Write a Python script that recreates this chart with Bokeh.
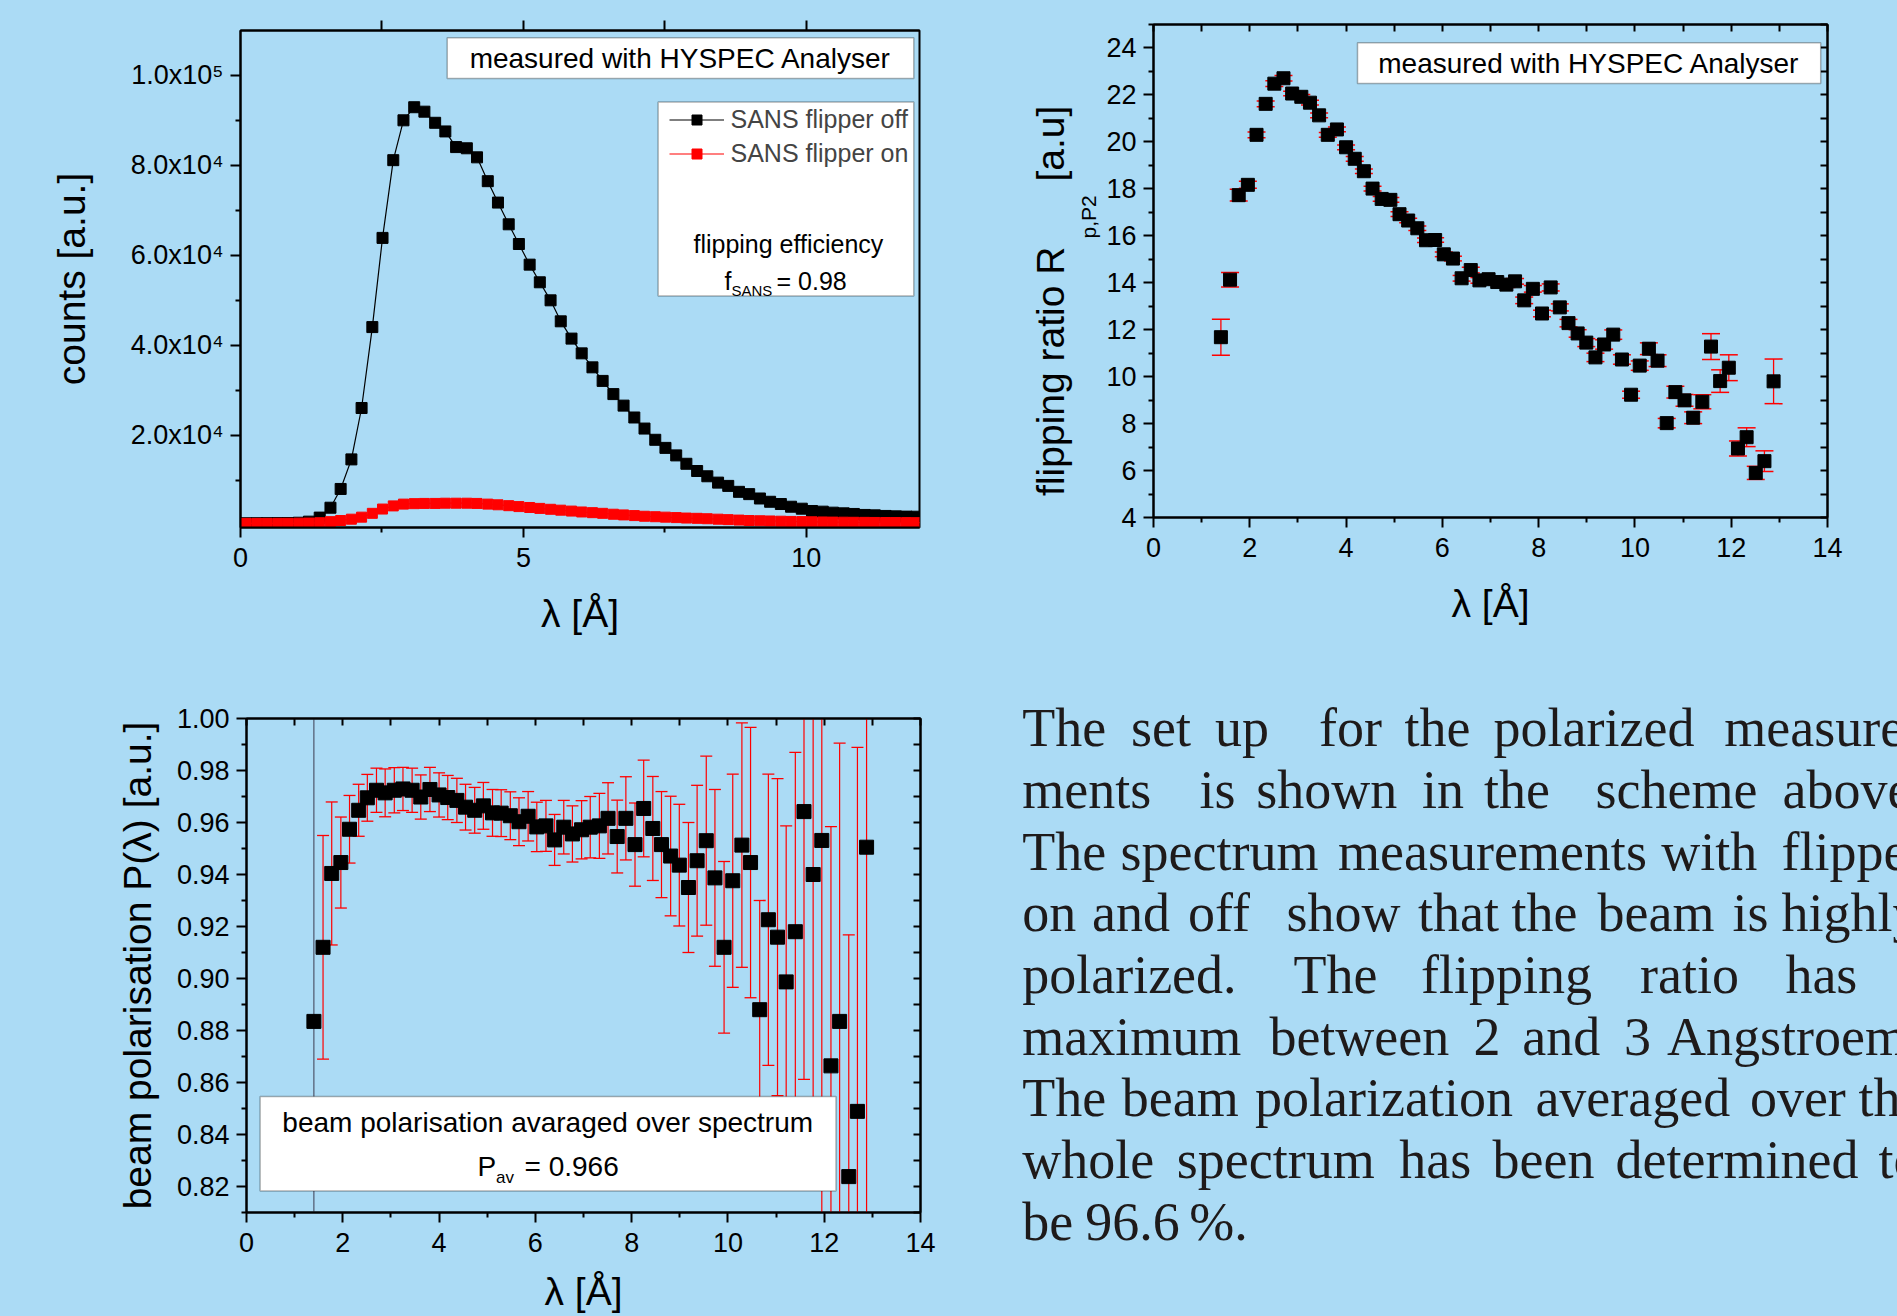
from bokeh.plotting import figure
from bokeh.layouts import column, row
from bokeh.models import (Range1d, FixedTicker, LinearAxis, Label, BoxAnnotation,
                          Legend, LegendItem, ColumnDataSource, Title)
from bokeh.core.properties import value
from bokeh.embed import file_html
from bokeh.resources import INLINE

BG = "#abdbf5"
SANS = "Liberation Sans"
SERIF = "Liberation Serif"
RED = "#ff0000"

# ---------------- data ----------------
# spectrum (panel 1)
lam_spec = [0.10, 0.29, 0.47, 0.66, 0.84, 1.03, 1.21,
            1.40, 1.59, 1.77, 1.96, 2.14, 2.33, 2.51, 2.70, 2.88, 3.07,
            3.25, 3.44, 3.62, 3.81, 4.00, 4.18, 4.37, 4.55, 4.74, 4.92,
            5.11, 5.29, 5.48, 5.66, 5.85, 6.03, 6.22, 6.40, 6.59, 6.77,
            6.96, 7.14, 7.33, 7.51, 7.70, 7.88, 8.07, 8.25, 8.44, 8.62,
            8.81, 8.99, 9.18, 9.36, 9.55, 9.73, 9.92, 10.10, 10.29, 10.47,
            10.66, 10.84, 11.03, 11.21, 11.40, 11.58, 11.77, 11.95, 12.14]
counts_off = [450, 460, 470, 480, 500, 560, 800,
              1700, 3900, 8070, 14640, 26070, 44060, 63890, 81170, 90030, 92940,
              91950, 89480, 87560, 84080, 83810, 81800, 76500, 71740, 66910, 62530,
              57940, 54020, 50010, 45340, 41500, 38220, 35110, 32090, 29160, 26600,
              23960, 21500, 19000, 17200, 15530, 13670, 12060, 10890, 9480, 8750,
              7430, 6920, 5950, 5220, 4720, 4120, 3680, 3170, 3020, 2800,
              2650, 2510, 2290, 2200, 2070, 1980, 1920, 1900, 1880]
counts_on = [420, 420, 420, 430, 440, 460, 490,
             560, 800, 1050, 1350, 1800, 2650, 3600, 4300, 4700, 4800,
             4850, 4850, 4900, 4900, 4900, 4850, 4700, 4550, 4350, 4150,
             3950, 3750, 3550, 3350, 3150, 2950, 2800, 2650, 2450, 2300,
             2150, 2000, 1900, 1800, 1700, 1600, 1540, 1450, 1350, 1250,
             1150, 1050, 1000, 950, 900, 850, 810, 770, 730, 700,
             680, 660, 640, 620, 610, 600, 590, 580, 570]

# flipping ratio and polarisation (panels 2, 3)
lam = [1.40, 1.59, 1.77, 1.96, 2.14, 2.33, 2.51, 2.70, 2.88, 3.07,
       3.25, 3.44, 3.62, 3.81, 4.00, 4.18, 4.37, 4.55, 4.74, 4.92,
       5.11, 5.29, 5.48, 5.66, 5.85, 6.03, 6.22, 6.40, 6.59, 6.77,
       6.96, 7.14, 7.33, 7.51, 7.70, 7.88, 8.07, 8.25, 8.44, 8.62,
       8.81, 8.99, 9.18, 9.36, 9.55, 9.73, 9.92, 10.10, 10.29, 10.47,
       10.66, 10.84, 11.03, 11.21, 11.40, 11.58, 11.77, 11.95, 12.14, 12.32,
       12.51, 12.69, 12.88]
ratio = [11.68, 14.13, 17.73, 18.17, 20.30, 21.62, 22.48, 22.71, 22.06, 21.92,
         21.67, 21.13, 20.30, 20.53, 19.77, 19.28, 18.75, 18.01, 17.57, 17.53,
         16.92, 16.65, 16.32, 15.81, 15.82, 15.21, 15.03, 14.19, 14.54, 14.10,
         14.15, 14.03, 13.92, 14.06, 13.25, 13.74, 12.69, 13.80, 12.95, 12.28,
         11.84, 11.45, 10.82, 11.37, 11.79, 10.73, 9.23, 10.47, 11.19, 10.68,
         8.02, 9.34, 8.99, 8.25, 8.93, 11.28, 9.81, 10.38, 6.94, 7.42,
         5.90, 6.40, 9.80]
ratio_err = [0.77, 0.31, 0.25, 0.15, 0.12, 0.12, 0.12, 0.12, 0.10, 0.10,
             0.10, 0.10, 0.10, 0.10, 0.10, 0.10, 0.10, 0.10, 0.10, 0.10,
             0.10, 0.10, 0.10, 0.10, 0.10, 0.10, 0.10, 0.12, 0.12, 0.12,
             0.12, 0.12, 0.12, 0.12, 0.14, 0.14, 0.14, 0.15, 0.15, 0.16,
             0.16, 0.17, 0.18, 0.20, 0.20, 0.20, 0.15, 0.20, 0.25, 0.25,
             0.20, 0.25, 0.25, 0.25, 0.30, 0.55, 0.48, 0.55, 0.32, 0.40,
             0.28, 0.44, 0.95]
pol = [0.8835, 0.9120, 0.9404, 0.9446, 0.9574, 0.9647, 0.9695, 0.9724, 0.9714, 0.9724,
       0.9729, 0.9724, 0.9698, 0.9727, 0.9706, 0.9696, 0.9685, 0.9659, 0.9647, 0.9664,
       0.9637, 0.9636, 0.9626, 0.9603, 0.9624, 0.9583, 0.9587, 0.9533, 0.9582, 0.9556,
       0.9572, 0.9582, 0.9587, 0.9616, 0.9546, 0.9616, 0.9515, 0.9654, 0.9577, 0.9515,
       0.9471, 0.9436, 0.9350, 0.9453, 0.9530, 0.9387, 0.9120, 0.9376, 0.9513, 0.9446,
       0.8880, 0.9226, 0.9159, 0.8987, 0.9180, 0.9642, 0.9400, 0.9531, 0.8664, 0.8835,
       0.8238, 0.8489, 0.9505]
pol_err = [0.200, 0.043, 0.0275, 0.0175, 0.013, 0.010, 0.009, 0.0085, 0.0092, 0.0087,
           0.0083, 0.0085, 0.0085, 0.0085, 0.0085, 0.0085, 0.0085, 0.0088, 0.0088, 0.0090,
           0.0090, 0.0090, 0.0092, 0.0092, 0.0095, 0.0095, 0.0098, 0.0098, 0.0103, 0.0108,
           0.0112, 0.0118, 0.0125, 0.0137, 0.0140, 0.0160, 0.0160, 0.0186, 0.0200, 0.0204,
           0.0230, 0.0234, 0.0250, 0.0290, 0.0325, 0.0340, 0.0330, 0.0410, 0.0470, 0.0520,
           0.0420, 0.0560, 0.0610, 0.0600, 0.0690, 0.1030, 0.1000, 0.1500, 0.0920, 0.1070,
           0.0930, 0.1400, 0.2000]

# ticks and labels
spec_x_ticks = [0, 5, 10]
spec_x_minor = [2.5, 7.5]
spec_top_ticks = [2.5, 5, 7.5, 10]
spec_y_ticks = [20000, 40000, 60000, 80000, 100000]
spec_y_minor = [10000, 30000, 50000, 70000, 90000]
spec_y_labels = ["2.0x10\u2074", "4.0x10\u2074", "6.0x10\u2074", "8.0x10\u2074", "1.0x10\u2075"]
lam_ticks = [0, 2, 4, 6, 8, 10, 12, 14]
lam_minor = [1, 3, 5, 7, 9, 11, 13]
ratio_ticks = [4, 6, 8, 10, 12, 14, 16, 18, 20, 22, 24]
ratio_minor = [5, 7, 9, 11, 13, 15, 17, 19, 21, 23, 25]
pol_ticks = [0.82, 0.84, 0.86, 0.88, 0.90, 0.92, 0.94, 0.96, 0.98, 1.00]
pol_minor = [0.81, 0.83, 0.85, 0.87, 0.89, 0.91, 0.93, 0.95, 0.97, 0.99]
pol_labels = ["0.82", "0.84", "0.86", "0.88", "0.90", "0.92", "0.94", "0.96", "0.98", "1.00"]

# paragraph text (words per line)
para_words = [
    ["The", "set", "up", "for", "the", "polarized", "measure-"],
    ["ments", "is", "shown", "in", "the", "scheme", "above."],
    ["The", "spectrum", "measurements", "with", "flipper"],
    ["on", "and", "off", "show", "that", "the", "beam", "is", "highly"],
    ["polarized.", "The", "flipping", "ratio", "has", "a"],
    ["maximum", "between", "2", "and", "3", "Angstroem."],
    ["The", "beam", "polarization", "averaged", "over", "the"],
    ["whole", "spectrum", "has", "been", "determined", "to"],
    ["be", "96.6", "%."],
]
# layout of the justified paragraph (pixel offsets inside the text panel)
para_word_x = [
    [21.7, 130.4, 214.5, 318.6, 403.9, 493.1, 723.7],
    [21.7, 199.1, 255.7, 421.6, 483.4, 595.0, 782.0],
    [21.7, 120.1, 337.5, 660.8, 780.9],
    [21.7, 91.5, 187.6, 286.0, 417.6, 511.0, 597.0, 732.0, 780.9],
    [21.7, 292.9, 420.5, 639.6, 784.9, 930.0],
    [21.7, 268.9, 473.1, 521.7, 623.6, 666.5],
    [21.7, 121.3, 254.6, 534.9, 749.4, 858.0],
    [21.7, 176.2, 398.7, 492.0, 615.0, 878.1],
    [21.7, 84.7, 188.8],
]
para_line_y = [87.7, 149.4, 211.1, 272.8, 334.5, 396.2, 457.9, 519.6, 581.3]


# ---------------- helpers ----------------
def make_fig(fw, fh, bl, br, bt, bb, xr, yr):
    p = figure(frame_width=fw, frame_height=fh,
               min_border_left=bl, min_border_right=br,
               min_border_top=bt, min_border_bottom=bb,
               x_range=xr, y_range=yr, frame_align=False,
               output_backend="svg", toolbar_location=None)
    p.background_fill_color = BG
    p.border_fill_color = BG
    p.outline_line_color = "black"
    p.outline_line_width = 2
    p.xgrid.visible = False
    p.ygrid.visible = False
    p.styles = {"background-color": BG}
    return p


def style_axis(ax, ticks, minor, out=10, mout=5, tin=0, min_in=0, labels=True,
               overrides=None, standoff=8):
    ax.ticker = FixedTicker(ticks=ticks, minor_ticks=minor)
    ax.axis_line_width = 2
    ax.axis_line_color = "black"
    ax.major_tick_line_width = 2
    ax.minor_tick_line_width = 2
    ax.major_tick_line_color = "black"
    ax.minor_tick_line_color = "black"
    ax.major_tick_out = out
    ax.major_tick_in = tin
    ax.minor_tick_out = mout
    ax.minor_tick_in = min_in
    if labels:
        ax.major_label_text_font = SANS
        ax.major_label_text_font_size = "27px"
        ax.major_label_text_color = "black"
        ax.major_label_standoff = standoff
    else:
        ax.major_label_text_font_size = "10px"
        ax.major_label_text_color = None
        ax.major_label_standoff = 0
    if overrides:
        ax.major_label_overrides = overrides
    ax.axis_label_text_font = SANS
    ax.axis_label_text_font_size = "39px"
    ax.axis_label_text_font_style = "normal"
    ax.axis_label_text_color = "black"


def box(p, l, r, t, b):
    p.add_layout(BoxAnnotation(left=l, right=r, top=t, bottom=b,
                               left_units="screen", right_units="screen",
                               top_units="screen", bottom_units="screen",
                               fill_color="white", fill_alpha=1.0,
                               line_color="black", line_width=1.5))


def lab(p, x, y, text, size, align="left", baseline="alphabetic"):
    p.add_layout(Label(x=x, y=y, x_units="screen", y_units="screen", text=text,
                       text_font=SANS, text_font_size=size, text_color="black",
                       text_align=align, text_baseline=baseline))


# ---------------- panel 1: spectrum ----------------
p1 = make_fig(679, 497, 240, 81, 30, 113, Range1d(0, 12), Range1d(-500, 110000))
src1 = ColumnDataSource(dict(x=lam_spec, off=counts_off, on=counts_on))
l_off = p1.line("x", "off", source=src1, line_color="black", line_width=1.2)
s_off = p1.scatter("x", "off", source=src1, marker="square", size=11,
                   fill_color="black", line_color="black")
l_on = p1.line("x", "on", source=src1, line_color=RED, line_width=1.2)
s_on = p1.scatter("x", "on", source=src1, marker="square", size=10,
                  fill_color=RED, line_color=RED)
style_axis(p1.xaxis[0], spec_x_ticks, spec_x_minor, standoff=10)
style_axis(p1.yaxis[0], spec_y_ticks, spec_y_minor, standoff=7,
           overrides={v: t for v, t in zip(spec_y_ticks, spec_y_labels)})
p1.xaxis[0].axis_label = "\u03bb [\u00c5]"
p1.xaxis[0].axis_label_standoff = 22
p1.yaxis[0].axis_label = "counts [a.u.]"
p1.yaxis[0].axis_label_standoff = 35
top1 = LinearAxis()
style_axis(top1, spec_top_ticks, [], out=10, labels=False)
p1.add_layout(top1, "above")

box(p1, 206.7, 673.3, 489.7, 449.0)
lab(p1, 440, 469.3, "measured with HYSPEC Analyser", "28px", "center", "middle")
box(p1, 417.6, 673.3, 425.4, 231.4)
leg = Legend(items=[LegendItem(label="SANS flipper off", renderers=[l_off, s_off]),
                    LegendItem(label="SANS flipper on", renderers=[l_on, s_on])],
             location=(428.5, 359.4), padding=0, margin=0, spacing=5,
             glyph_width=55, glyph_height=25, label_height=25, label_standoff=7,
             label_text_font=SANS, label_text_font_size="25px",
             border_line_color=None, background_fill_alpha=0)
p1.add_layout(leg)
lab(p1, 547.9, 283.2, "flipping efficiency", "25px", "center", "middle")
lab(p1, 484, 247, "f", "25px")
lab(p1, 491, 237, "SANS", "15px")
lab(p1, 536, 247, "= 0.98", "25px")

# ---------------- panel 2: flipping ratio ----------------
p2 = make_fig(674, 493, 153, 70, 24, 123, Range1d(0, 14), Range1d(4, 25))
src2 = ColumnDataSource(dict(x=lam, y=ratio,
                             lo=[v - e for v, e in zip(ratio, ratio_err)],
                             hi=[v + e for v, e in zip(ratio, ratio_err)]))
p2.segment(x0="x", y0="lo", x1="x", y1="hi", source=src2, line_color=RED, line_width=1.3)
p2.scatter("x", "lo", source=src2, marker="dash", size=18, line_color=RED, line_width=1.5)
p2.scatter("x", "hi", source=src2, marker="dash", size=18, line_color=RED, line_width=1.5)
p2.scatter("x", "y", source=src2, marker="square", size=13,
           fill_color="black", line_color="black")
style_axis(p2.xaxis[0], lam_ticks, lam_minor, standoff=10)
style_axis(p2.yaxis[0], ratio_ticks, ratio_minor, standoff=7)
p2.xaxis[0].axis_label = "\u03bb [\u00c5]"
p2.xaxis[0].axis_label_standoff = 22
top2 = LinearAxis()
style_axis(top2, lam_ticks, lam_minor, out=0, mout=0, tin=7, min_in=7, labels=False)
p2.add_layout(top2, "above")
right2 = LinearAxis()
style_axis(right2, ratio_ticks, ratio_minor, out=0, mout=0, tin=7, min_in=7, labels=False)
p2.add_layout(right2, "right")
# y-axis title with subscript, as two side titles
t_sub = Title(text="p,P2", align="left", offset=279, standoff=7,
              vertical_align="bottom", text_font=SANS, text_font_size="21px",
              text_font_style="normal", text_color="black")
p2.add_layout(t_sub, "left")
t_main = Title(text="flipping ratio R" + "\u00a0" * 6 + "[a.u]", align="left",
               offset=21.6, standoff=0, vertical_align="bottom", text_font=SANS,
               text_font_size="39px", text_font_style="normal", text_color="black")
p2.add_layout(t_main, "left")
box(p2, 204.0, 667.2, 474.7, 434.1)
lab(p2, 435.6, 454.4, "measured with HYSPEC Analyser", "28px", "center", "middle")

# ---------------- panel 3: beam polarisation ----------------
p3 = make_fig(674, 494, 246, 80, 78, 104, Range1d(0, 14), Range1d(0.81, 1.00))
bar_col = ["#3c3c50"] + [RED] * (len(lam) - 1)
bar_w = [1.0] + [1.2] * (len(lam) - 1)
src3 = ColumnDataSource(dict(x=lam, y=pol, c=bar_col, w=bar_w,
                             lo=[v - e for v, e in zip(pol, pol_err)],
                             hi=[v + e for v, e in zip(pol, pol_err)]))
p3.segment(x0="x", y0="lo", x1="x", y1="hi", source=src3, line_color="c", line_width="w")
p3.scatter("x", "lo", source=src3, marker="dash", size=12, line_color=RED, line_width=1.3)
p3.scatter("x", "hi", source=src3, marker="dash", size=12, line_color=RED, line_width=1.3)
p3.scatter("x", "y", source=src3, marker="square", size=14,
           fill_color="black", line_color="black")
style_axis(p3.xaxis[0], lam_ticks, lam_minor, standoff=10)
style_axis(p3.yaxis[0], pol_ticks, pol_minor, standoff=7,
           overrides={v: t for v, t in zip(pol_ticks, pol_labels)})
p3.xaxis[0].axis_label = "\u03bb [\u00c5]"
p3.xaxis[0].axis_label_standoff = 15
p3.yaxis[0].axis_label = "beam polarisation P(\u03bb) [a.u.]"
p3.yaxis[0].axis_label_standoff = 15
top3 = LinearAxis()
style_axis(top3, lam_ticks, lam_minor, out=0, mout=0, tin=7, min_in=7, labels=False)
p3.add_layout(top3, "above")
right3 = LinearAxis()
style_axis(right3, pol_ticks, pol_minor, out=0, mout=0, tin=7, min_in=7, labels=False)
p3.add_layout(right3, "right")
box(p3, 13.6, 589.5, 116.0, 21.6)
lab(p3, 301.2, 89.6, "beam polarisation avaraged over spectrum", "28px", "center", "middle")
lab(p3, 231, 46, "P", "28px")
lab(p3, 249.5, 35, "av", "17px")
lab(p3, 278, 46, "= 0.966", "28px")

# ---------------- panel 4: paragraph ----------------
p4 = figure(frame_width=897, frame_height=676, min_border=0,
            min_border_left=0, min_border_right=0, min_border_top=0, min_border_bottom=0,
            x_range=Range1d(0, 897), y_range=Range1d(676, 0), frame_align=False,
            x_axis_location=None, y_axis_location=None,
            output_backend="svg", toolbar_location=None)
p4.background_fill_color = BG
p4.border_fill_color = BG
p4.outline_line_color = None
p4.xgrid.visible = False
p4.ygrid.visible = False
p4.styles = {"background-color": BG}
wx, wy, wt = [], [], []
for words, xs, y in zip(para_words, para_word_x, para_line_y):
    for w, x in zip(words, xs):
        wx.append(x)
        wy.append(y)
        wt.append(w)
src4 = ColumnDataSource(dict(x=wx, y=wy, t=wt))
p4.text(x="x", y="y", text="t", source=src4, text_font=value(SERIF),
        text_font_size="54px", text_color="#1e1a1a",
        text_align="left", text_baseline="alphabetic")

row1 = row(p1, p2, styles={"background-color": BG})
row2 = row(p3, p4, styles={"background-color": BG})
root = column(row1, row2, styles={"background-color": BG})

open("out.html", "w").write(file_html(root, INLINE))
